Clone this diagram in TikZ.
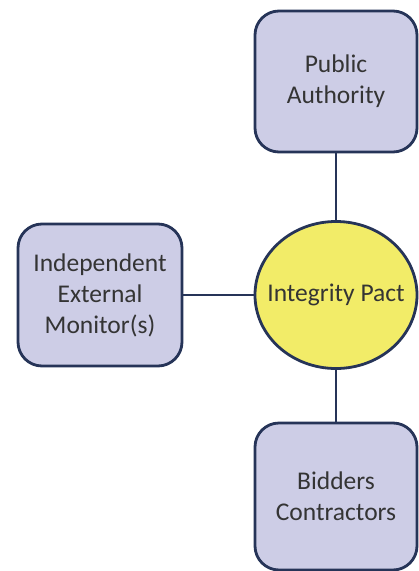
\documentclass[tikz,border=0pt]{standalone}
\usepackage{fontspec}
\setmainfont{Carlito}
\usetikzlibrary{shapes.geometric}
\definecolor{boxfill}{RGB}{205,205,230}
\definecolor{edgeblue}{RGB}{38,52,88}
\definecolor{pactyellow}{RGB}{242,236,104}
\definecolor{labelgray}{RGB}{52,52,52}
\tikzset{
  labeltext/.style={text=labelgray, font=\fontsize{25.5}{31}\selectfont},
  party/.style={draw=edgeblue, fill=boxfill, line width=2.8pt, rounded corners=24pt,
    inner sep=0pt, align=center, labeltext},
  hub/.style={ellipse, draw=edgeblue, fill=pactyellow, line width=2.8pt, inner sep=0pt,
    minimum width=162pt, minimum height=147pt},
  link/.style={draw=edgeblue, line width=2.8pt}
}
\begin{document}
\begin{tikzpicture}[x=1pt, y=-1pt]
  \useasboundingbox (0,0) rectangle (419,571);
  \node[hub, label={[labeltext]center:Integrity Pact}] (pact) at (336,295) {};
  \node[party, minimum width=162pt, minimum height=141pt] (auth) at (336,81.5) {Public\\Authority};
  \node[party, minimum width=164pt, minimum height=142pt] (monitor) at (100,295) {Independent\\External\\Monitor(s)};
  \node[party, minimum width=162pt, minimum height=147pt] (bidders) at (336,496.5) {Bidders\\Contractors};
  \draw[link] (auth.south) -- (pact.north);
  \draw[link] (pact.south) -- (bidders.north);
  \draw[link] (monitor.east) -- (pact.west);
\end{tikzpicture}
\end{document}
